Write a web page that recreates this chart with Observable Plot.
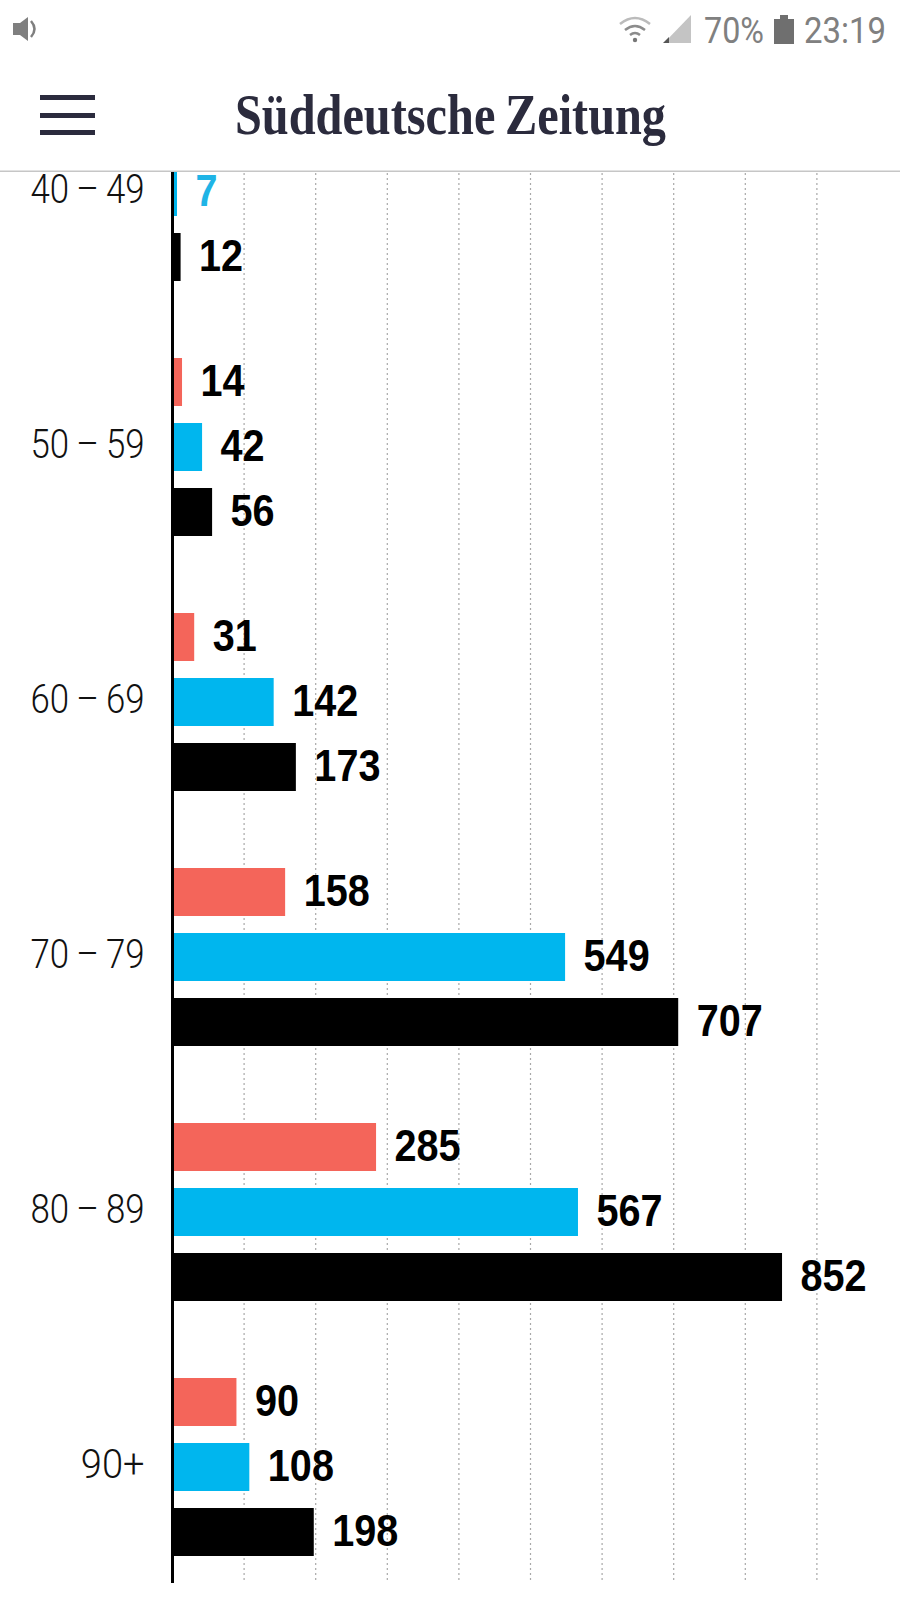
<!DOCTYPE html>
<html><head><meta charset="utf-8">
<script src="https://cdn.jsdelivr.net/npm/d3@7"></script>
<script src="https://cdn.jsdelivr.net/npm/@observablehq/plot@0.6"></script>
<style>
html,body{margin:0;padding:0;background:#fff;width:900px;height:1600px;overflow:hidden}
#head{display:block;width:900px;height:172px;position:relative;z-index:2;background:#fff}
#chart svg{display:block}
</style></head><body>
<svg id="head" viewBox="0 0 900 172" width="900" height="172">
  <path d="M13 23h7l8-6v24l-8-6h-7z" fill="#7f7f7f"/><path d="M31 21q7 8 0 16" fill="none" stroke="#7f7f7f" stroke-width="2.5"/>
  <g fill="none" stroke="#8c8c8c" stroke-width="2.5"><path d="M620 24q15-12 30 0" stroke="#bbb"/><path d="M625 30q10-8 20 0"/><path d="M630 35q5-4 10 0"/></g>
  <circle cx="635" cy="40" r="2.2" fill="#777"/>
  <path d="M664 43l27-28v28z" fill="#c4c4c4"/><path d="M663 43l6-6v6z" fill="#555"/>
  <text x="704" y="43" font-family="Roboto" font-size="36" fill="#808080" textLength="60" lengthAdjust="spacingAndGlyphs">70%</text>
  <rect x="774" y="19" width="20" height="25" fill="#6f6f6f"/><rect x="780" y="15" width="8" height="4" fill="#6f6f6f"/>
  <text x="804" y="43" font-family="Roboto" font-size="36" fill="#808080" textLength="82" lengthAdjust="spacingAndGlyphs">23:19</text>
  <g fill="#2b2b3d"><rect x="40" y="95" width="55" height="5"/><rect x="40" y="113" width="55" height="5"/><rect x="40" y="130" width="55" height="5"/></g>
  <text x="235" y="134" font-family="Liberation Serif" font-weight="700" font-size="56" fill="#2b2b3d" textLength="431" lengthAdjust="spacingAndGlyphs">Süddeutsche&#8201;Zeitung</text>
  <rect x="0" y="170.5" width="900" height="2" fill="#c6c6c6"/>
</svg>
<div id="chart"></div>
<script>
const groups = ["40\u2009–\u200949","50\u2009–\u200959","60\u2009–\u200969","70\u2009–\u200979","80\u2009–\u200989","90+"];
const series = ["Frauen","Männer","Gesamt"];
const colors = ["#f4655a","#00b6ee","#000000"];
const frauen = [null,14,31,158,285,90];
const maenner = [7,42,142,549,567,108];
const gesamt = [12,56,173,707,852,198];
const gridValues = [100,200,300,400,500,600,700,800,900];
const columns = [frauen,maenner,gesamt];
const rows = series.flatMap((s,i)=>groups.map((g,j)=>({group:g,series:s,value:columns[i][j]}))).filter(d=>d.value!=null);
const isBlueLabel = d => d.value===7;
const valueFont = "'Liberation Sans',sans-serif";
const plot = Plot.plot({
  width:900,height:1428,marginLeft:172,marginRight:12,marginTop:0,marginBottom:17,
  x:{domain:[0,1000],range:[172,888],axis:null},
  fy:{domain:groups,range:[-119,1411],padding:0,label:null,round:false},
  y:{domain:series,paddingInner:17/65,paddingOuter:77/130,align:50/77,round:false,axis:null,label:null},
  color:{domain:series,range:colors},
  marks:[
    Plot.ruleX(gridValues,{stroke:"#a8a8a8",strokeWidth:1.2,strokeDasharray:"2 3"}),
    Plot.barX(rows,{x:"value",y:"series",fy:"group",fill:"series"}),
    Plot.ruleX([0],{stroke:"#000",strokeWidth:3}),
    Plot.text(rows.filter(d=>!isBlueLabel(d)),{x:"value",y:"series",fy:"group",text:d=>String(d.value),dx:18,dy:-0.5,textAnchor:"start",fill:"#000",fontWeight:700,fontSize:45,fontFamily:valueFont}),
    Plot.text(rows.filter(isBlueLabel),{x:"value",y:"series",fy:"group",text:d=>String(d.value),dx:18,dy:-0.5,textAnchor:"start",fill:"#1fb4e6",fontWeight:700,fontSize:45,fontFamily:valueFont}),
    Plot.axisFy({anchor:"left",tickSize:0,tickPadding:28,label:null,fontSize:40,fontFamily:"Roboto",fontWeight:300,fill:"#111",dy:9.5})
  ]
});
plot.style.background="transparent";
plot.style.overflow="visible";
document.getElementById("chart").append(plot);
// The reference uses a condensed face: none is installed, so the real text is narrowed in place.
plot.querySelectorAll("text").forEach(t=>{
  const s = t.textContent;
  const factor = s==="90+" ? 0.95 : groups.includes(s) ? 0.87 : 0.88;
  t.setAttribute("textLength",t.getComputedTextLength()*factor);
  t.setAttribute("lengthAdjust","spacingAndGlyphs");
});
</script>
</body></html>
